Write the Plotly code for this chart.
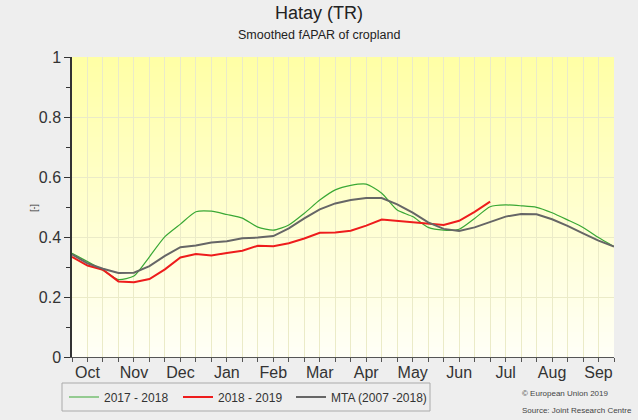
import plotly.graph_objects as go

dekads = list(range(36))
months = ["Oct", "Nov", "Dec", "Jan", "Feb", "Mar", "Apr", "May", "Jun", "Jul", "Aug", "Sep"]
month_pos = [1 + 3 * k for k in range(12)]

s2017 = [0.346, 0.318, 0.289, 0.258, 0.270, 0.334, 0.401, 0.443, 0.484, 0.486,
         0.475, 0.463, 0.433, 0.423, 0.440, 0.479, 0.523, 0.557, 0.572, 0.576,
         0.546, 0.490, 0.468, 0.432, 0.423, 0.426, 0.462, 0.501, 0.507, 0.504,
         0.499, 0.481, 0.457, 0.432, 0.398, 0.368]
s2018 = [0.334, 0.305, 0.291, 0.252, 0.249, 0.260, 0.292, 0.332, 0.343, 0.338,
         0.347, 0.354, 0.371, 0.369, 0.379, 0.395, 0.414, 0.415, 0.421, 0.438,
         0.458, 0.454, 0.448, 0.444, 0.440, 0.454, 0.484, 0.518]
mta = [0.342, 0.312, 0.294, 0.280, 0.281, 0.303, 0.337, 0.366, 0.372, 0.382,
       0.386, 0.396, 0.398, 0.403, 0.429, 0.462, 0.492, 0.512, 0.523, 0.530,
       0.530, 0.509, 0.481, 0.449, 0.427, 0.420, 0.432, 0.451, 0.468, 0.477,
       0.476, 0.459, 0.437, 0.412, 0.388, 0.368]

FONT = "Liberation Sans, Arial, sans-serif"

W, H = 638, 420
L, R, T, B = 72, 24, 57, 63
pw, ph = W - L - R, H - T - B

fig = go.Figure()
fig.add_trace(go.Scatter(x=dekads[:len(s2017)], y=s2017, mode="lines", name="2017 - 2018",
                         legend="legend",
                         line=dict(color="#3aa835", width=1.2, shape="spline", smoothing=0.6)))
fig.add_trace(go.Scatter(x=dekads[:len(s2018)], y=s2018, mode="lines", name="2018 - 2019",
                         legend="legend2",
                         line=dict(color="#ee1c1c", width=2)))
fig.add_trace(go.Scatter(x=dekads[:len(mta)], y=mta, mode="lines", name="MTA (2007 -2018)",
                         legend="legend3",
                         line=dict(color="#666666", width=2)))


def px_x(xp):
    return (xp - L) / pw


def px_y(yp):
    return (H - B - yp) / ph


# vertical gradient background of the plot area
shapes = []
n = 60
top = (255, 255, 166)
bot = (255, 255, 246)
for k in range(n):
    t = k / (n - 1)
    c = tuple(round(bot[j] + (top[j] - bot[j]) * t) for j in range(3))
    shapes.append(dict(type="rect", xref="paper", yref="paper",
                       x0=0, x1=1, y0=k / n, y1=(k + 1) / n,
                       fillcolor="rgb(%d,%d,%d)" % c, line=dict(width=0), layer="below"))
# legend frame
shapes.append(dict(type="rect", xref="paper", yref="paper",
                   x0=px_x(62), x1=px_x(430), y0=px_y(411), y1=px_y(383),
                   fillcolor="#eeeeee", line=dict(width=1, color="#aaaaaa"), layer="below"))


def ann(text, xp, yp, size, xanchor="center", color="#333333", angle=0):
    return dict(text=text, x=px_x(xp), y=px_y(yp), xref="paper", yref="paper",
                xanchor=xanchor, yanchor="middle", showarrow=False, textangle=angle,
                font=dict(size=size, color=color))


annotations = [
    ann("Hatay (TR)", W / 2, 13, 18, color="#222222"),
    ann("Smoothed fAPAR of cropland", W / 2, 35, 12.5, color="#222222"),
    ann("© European Union 2019", 520, 393, 8, xanchor="left", color="#444444"),
    ann("Source: Joint Research Centre", 520, 410, 8, xanchor="left", color="#444444"),
    ann("[-]", 34, 208, 9, angle=-90),
]


def leg(xp):
    return dict(orientation="h", xref="container", yref="container",
                x=xp / W, y=1 - 397 / H, xanchor="left", yanchor="middle",
                bgcolor="rgba(0,0,0,0)", borderwidth=0,
                font=dict(size=12, color="#333333"))


fig.update_layout(
    width=W, height=H,
    margin=dict(l=L, r=R, t=T, b=B, autoexpand=False),
    paper_bgcolor="#eeeeee",
    plot_bgcolor="#fffff6",
    shapes=shapes,
    font=dict(family=FONT, color="#333333"),
    showlegend=True,
    legend=leg(64),
    legend2=leg(178),
    legend3=leg(291),
    annotations=annotations,
    xaxis=dict(range=[0, 35], tickvals=month_pos, ticktext=months, ticks="outside",
               ticklen=4, tickcolor="#555555", showgrid=True, gridcolor="#ebebc8",
               tickfont=dict(size=16, color="#333333"), showline=True, linecolor="#555555",
               zeroline=False, ticklabelstandoff=-3,
               minor=dict(dtick=1, tick0=0, ticks="outside", ticklen=4, tickcolor="#555555",
                          showgrid=True, gridcolor="#ebebc8")),
    yaxis=dict(range=[0, 1], dtick=0.2, tick0=0, ticks="outside", ticklen=6,
               tickcolor="#333333", showgrid=True, gridcolor="#ebebc8",
               tickfont=dict(size=16, color="#333333"), showline=True, linecolor="#333333",
               linewidth=1.5, zeroline=False,
               minor=dict(dtick=0.1, ticks="outside", ticklen=4, tickcolor="#333333", showgrid=False)),
)

fig.write_html("out.html", config={"displayModeBar": False},
               post_script="document.body.style.margin='0';")
